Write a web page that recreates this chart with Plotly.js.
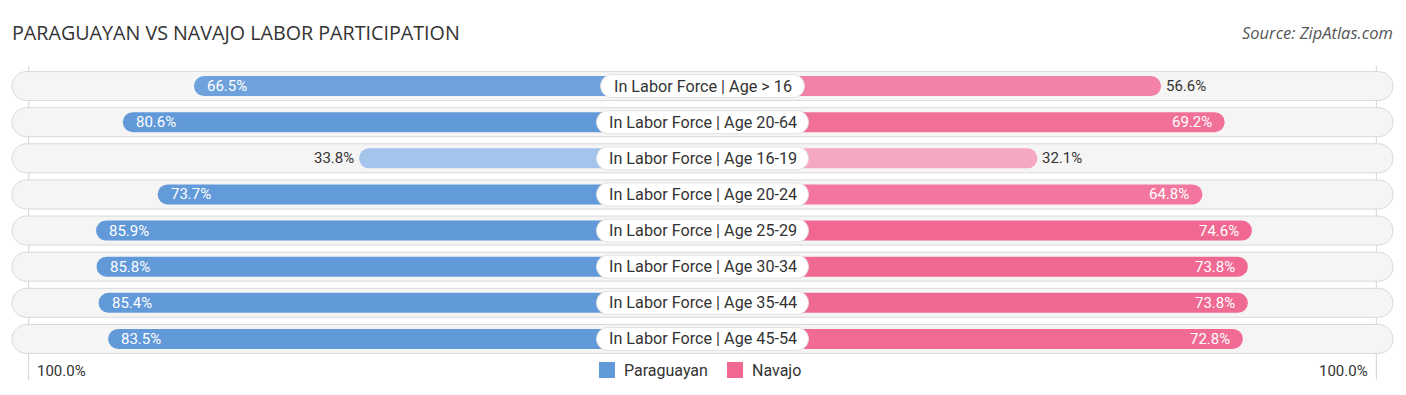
<!DOCTYPE html>
<html>
<head>
<meta charset="utf-8">
<script src="https://cdn.plot.ly/plotly-3.0.1.min.js"></script>
<style>
html,body{margin:0;padding:0;background:#fff;}
#chart{width:1406px;height:395px;}
</style>
</head>
<body>
<div id="chart"></div>
<script>
// ---- data ----
const categories = [
  "In Labor Force | Age > 16",
  "In Labor Force | Age 20-64",
  "In Labor Force | Age 16-19",
  "In Labor Force | Age 20-24",
  "In Labor Force | Age 25-29",
  "In Labor Force | Age 30-34",
  "In Labor Force | Age 35-44",
  "In Labor Force | Age 45-54"
];
const paraguayan = [66.5, 80.6, 33.8, 73.7, 85.9, 85.8, 85.4, 83.5];
const navajo = [56.6, 69.2, 32.1, 64.8, 74.6, 73.8, 73.8, 72.8];
const seriesNames = ["Paraguayan", "Navajo"];
const axisLabel = "100.0%";
const titleText = "PARAGUAYAN VS NAVAJO LABOR PARTICIPATION";
const sourceText = "Source: ZipAtlas.com";

// ---- geometry (px <-> axis units) ----
const W = 1406, H = 395, L = 11, R = 12, T = 68, B = 38;
const RANGE = 137;
const pw = W - L - R, ph = H - T - B;
const PXU = pw / (2 * RANGE);            // px per x unit
const PXY = ph / categories.length;      // px per category row
const GAP = 34.25;                       // zero offset of each side (axis units)
const LIM = 133.5;                       // where the 100% guide lines sit
const EDGE = 136.8;                      // background pill extent
const idx = categories.map((_, i) => i);

function px2paperX(px) { return (px - L) / pw; }
function px2paperY(py) { return (H - B - py) / ph; }

function mix(c1, c2, t) {
  const a = c1.match(/\w\w/g).map(h => parseInt(h, 16));
  const b = c2.match(/\w\w/g).map(h => parseInt(h, 16));
  return "rgb(" + a.map((v, k) => Math.round(v + (b[k] - v) * t)).join(",") + ")";
}
function shade(v, light, full) {
  const t = Math.max(0, Math.min(1, (v - 30) / 45));
  return mix(light, full, t);
}
const blueCols = paraguayan.map(v => shade(v, "aac8ed", "6199d9"));
const pinkCols = navajo.map(v => shade(v, "f7abc3", "f06792"));

// rounded pill path in data coordinates
function pill(x0, x1, yc, hPx) {
  const rx = (hPx / 2) / PXU, ry = (hPx / 2) / PXY, k = 0.5523;
  const top = yc - ry, bot = yc + ry;
  return "M" + (x0 + rx) + "," + top +
    " L" + (x1 - rx) + "," + top +
    " C" + (x1 - rx + k * rx) + "," + top + " " + x1 + "," + (yc - k * ry) + " " + x1 + "," + yc +
    " C" + x1 + "," + (yc + k * ry) + " " + (x1 - rx + k * rx) + "," + bot + " " + (x1 - rx) + "," + bot +
    " L" + (x0 + rx) + "," + bot +
    " C" + (x0 + rx - k * rx) + "," + bot + " " + x0 + "," + (yc + k * ry) + " " + x0 + "," + yc +
    " C" + x0 + "," + (yc - k * ry) + " " + (x0 + rx - k * rx) + "," + top + " " + (x0 + rx) + "," + top + " Z";
}

const shapes = [];
idx.forEach(i => {
  shapes.push({type: "path", xref: "x", yref: "y", path: pill(-EDGE, EDGE, i, 29), layer: "below",
    fillcolor: "#f5f5f5", line: {color: "#d9d9d9", width: 1}});
});
shapes.push({type: "line", xref: "x", yref: "paper", x0: -LIM, x1: -LIM, y0: px2paperY(380), y1: px2paperY(66),
  line: {color: "#d4d4d4", width: 1}, layer: "below"});
shapes.push({type: "line", xref: "x", yref: "paper", x0: LIM, x1: LIM, y0: px2paperY(380), y1: px2paperY(66),
  line: {color: "#d4d4d4", width: 1}, layer: "below"});
idx.forEach(i => {
  const hw = categories[i].length * 8.15 / 2 / PXU;
  shapes.push({type: "path", xref: "x", yref: "y", path: pill(-hw, hw, i, 23), layer: "above",
    fillcolor: "#ffffff", line: {color: "#e2e2e2", width: 1}});
});
// legend swatches
shapes.push({type: "rect", xref: "paper", yref: "paper", x0: px2paperX(599), x1: px2paperX(615),
  y0: px2paperY(378), y1: px2paperY(362), fillcolor: "#6199d9", line: {width: 0}});
shapes.push({type: "rect", xref: "paper", yref: "paper", x0: px2paperX(727), x1: px2paperX(743),
  y0: px2paperY(378), y1: px2paperY(362), fillcolor: "#f06792", line: {width: 0}});

const traces = [
  {type: "bar", orientation: "h", name: seriesNames[0], y: idx,
    x: paraguayan.map(v => -(GAP + v)), base: 0, width: 20 / PXY,
    marker: {color: blueCols, cornerradius: 10}, hoverinfo: "skip", showlegend: false},
  {type: "bar", orientation: "h", name: seriesNames[1], y: idx,
    x: navajo.map(v => GAP + v), base: 0, width: 20 / PXY,
    marker: {color: pinkCols, cornerradius: 10}, hoverinfo: "skip", showlegend: false}
];

const FONT = "Roboto, sans-serif";
const annotations = [];
categories.forEach((c, i) => {
  annotations.push({x: 0, y: i, xref: "x", yref: "y", text: c, showarrow: false,
    font: {family: FONT, size: 16.2, color: "#333333"}, xanchor: "center", yanchor: "middle"});
  const pv = paraguayan[i], pin = pv >= 60;
  annotations.push({x: -(GAP + pv), y: i, xref: "x", yref: "y", text: pv.toFixed(1) + "%", showarrow: false,
    xanchor: pin ? "left" : "right", xshift: pin ? 11 : -3, yanchor: "middle",
    font: {family: FONT, size: 15, color: pin ? "#ffffff" : "#333333"}});
  const nv = navajo[i], nin = nv >= 60;
  annotations.push({x: GAP + nv, y: i, xref: "x", yref: "y", text: nv.toFixed(1) + "%", showarrow: false,
    xanchor: nin ? "right" : "left", xshift: nin ? -11 : 3, yanchor: "middle",
    font: {family: FONT, size: 15, color: nin ? "#ffffff" : "#333333"}});
});
annotations.push({x: -LIM, y: px2paperY(371), xref: "x", yref: "paper", text: axisLabel, showarrow: false,
  xanchor: "left", xshift: 6, yanchor: "middle", font: {family: FONT, size: 15, color: "#333333"}});
annotations.push({x: LIM, y: px2paperY(371), xref: "x", yref: "paper", text: axisLabel, showarrow: false,
  xanchor: "right", xshift: -6, yanchor: "middle", font: {family: FONT, size: 15, color: "#333333"}});
annotations.push({x: px2paperX(622), y: px2paperY(370), xref: "paper", yref: "paper", text: seriesNames[0],
  showarrow: false, xanchor: "left", yanchor: "middle", font: {family: FONT, size: 16, color: "#333333"}});
annotations.push({x: px2paperX(750), y: px2paperY(370), xref: "paper", yref: "paper", text: seriesNames[1],
  showarrow: false, xanchor: "left", yanchor: "middle", font: {family: FONT, size: 16, color: "#333333"}});
annotations.push({x: px2paperX(10), y: px2paperY(33), xref: "paper", yref: "paper", text: titleText,
  showarrow: false, xanchor: "left", yanchor: "middle",
  font: {family: "'Open Sans', sans-serif", size: 19.7, color: "#333333"}});
annotations.push({x: px2paperX(1395), y: px2paperY(33), xref: "paper", yref: "paper",
  text: "<i>" + sourceText + "</i>", showarrow: false, xanchor: "right", yanchor: "middle",
  font: {family: "'Open Sans', sans-serif", size: 16.5, color: "#555555"}});

const layout = {
  width: W, height: H,
  margin: {l: L, r: R, t: T, b: B, pad: 0},
  paper_bgcolor: "#ffffff", plot_bgcolor: "rgba(0,0,0,0)",
  barmode: "overlay",
  showlegend: false,
  xaxis: {range: [-RANGE, RANGE], visible: false, fixedrange: true},
  yaxis: {range: [categories.length - 0.5, -0.5], visible: false, fixedrange: true},
  annotations: annotations,
  shapes: shapes
};

Plotly.newPlot("chart", traces, layout, {displayModeBar: false, staticPlot: true});
</script>
</body>
</html>
